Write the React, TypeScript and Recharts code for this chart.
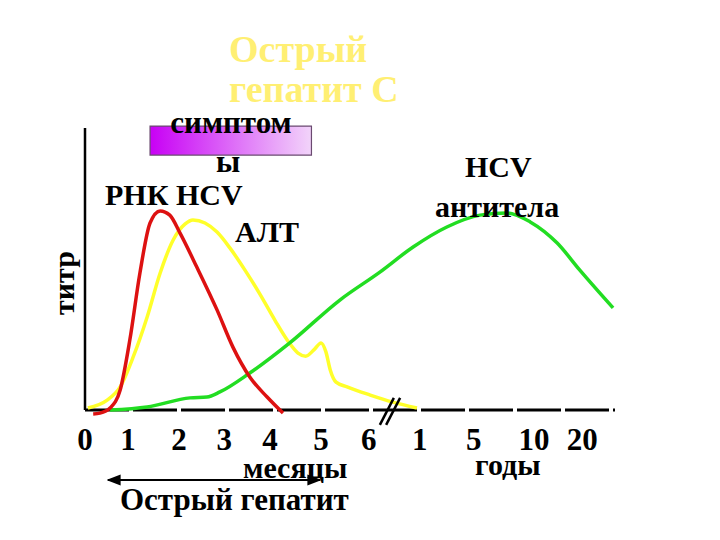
import { LineChart, Line, XAxis, YAxis, ReferenceLine, ReferenceArea } from 'recharts';

// x: timeline position (months 0..6, then years 1..20 after the break), v: titre
const rnaHcv = [
  { x: 0.17, v: -1.4 }, { x: 0.31, v: -1.1 }, { x: 0.52, v: 0.7 }, { x: 0.73, v: 7.1 },
  { x: 0.93, v: 24.8 }, { x: 1.14, v: 48.6 }, { x: 1.35, v: 66.3 }, { x: 1.56, v: 70.6 },
  { x: 1.76, v: 69.1 }, { x: 1.97, v: 62.8 }, { x: 2.32, v: 50.7 }, { x: 2.74, v: 35.5 },
  { x: 3.07, v: 22.3 }, { x: 3.42, v: 11.7 }, { x: 3.78, v: 4.6 }, { x: 4.11, v: -1.1 },
];

const alt = [
  { x: 0.06, v: 0.7 }, { x: 0.46, v: 3.5 }, { x: 0.73, v: 8.2 }, { x: 1.0, v: 18.8 },
  { x: 1.29, v: 33.0 }, { x: 1.56, v: 48.6 }, { x: 1.83, v: 60.3 }, { x: 2.08, v: 66.0 },
  { x: 2.24, v: 67.4 }, { x: 2.49, v: 66.3 }, { x: 2.74, v: 63.1 }, { x: 3.01, v: 57.4 },
  { x: 3.32, v: 49.6 }, { x: 3.63, v: 41.1 }, { x: 3.94, v: 31.9 }, { x: 4.21, v: 24.5 },
  { x: 4.42, v: 20.2 }, { x: 4.58, v: 19.1 }, { x: 4.75, v: 21.3 }, { x: 4.9, v: 23.8 },
  { x: 5.0, v: 20.6 }, { x: 5.09, v: 14.2 }, { x: 5.21, v: 9.9 }, { x: 5.44, v: 8.2 },
  { x: 5.92, v: 5.3 }, { x: 6.39, v: 2.8 }, { x: 6.89, v: 0.7 },
];

const antibodies = [
  { x: 0.52, v: 0 }, { x: 1.29, v: 1.1 }, { x: 2.18, v: 4.3 }, { x: 2.53, v: 4.6 },
  { x: 2.8, v: 6.4 }, { x: 3.42, v: 13.1 }, { x: 4.25, v: 23.8 }, { x: 5.29, v: 39.0 },
  { x: 6.12, v: 48.9 }, { x: 6.81, v: 57.8 }, { x: 7.51, v: 64.9 }, { x: 8.2, v: 69.1 },
  { x: 8.76, v: 69.9 }, { x: 9.24, v: 66.7 }, { x: 9.8, v: 59.2 }, { x: 10.27, v: 49.6 },
  { x: 10.96, v: 36.2 },
];

const tickPositions = [0, 0.89, 1.95, 2.89, 3.84, 4.9, 5.89, 6.95, 8.07, 9.32, 10.32];
const tickLabels = ['0', '1', '2', '3', '4', '5', '6', '1', '5', '10', '20'];

const symptoms = { start: 1.35, end: 4.7, low: 90.4, high: 100.7 };
const axisBreak = 6.33;

const serif = '"Liberation Serif", "Times New Roman", serif';

function MonthTick(props: any) {
  const { x, y, payload } = props;
  const i = tickPositions.indexOf(payload.value);
  return (
    <text x={x} y={y} dy={34} textAnchor="middle" fontFamily={serif} fontWeight="bold" fontSize={31} fill="#000">
      {tickLabels[i]}
    </text>
  );
}

export default function App() {
  const txt = { fontFamily: serif, fontWeight: 'bold' as const, fill: '#000' };
  return (
    <div style={{ position: 'absolute', left: 0, top: 0, width: 720, height: 540, background: '#fff' }}>
      <LineChart width={720} height={540} data={alt} margin={{ top: 128, right: 105, bottom: 84.36, left: 85 }}>
        <defs>
          <linearGradient id="sympGrad" x1="0" y1="0" x2="1" y2="0">
            <stop offset="0%" stopColor="#C800F5" />
            <stop offset="100%" stopColor="#F2D4FA" />
          </linearGradient>
        </defs>
        <XAxis dataKey="x" type="number" domain={[0, 11]} ticks={tickPositions} height={40}
          axisLine={false} tickLine={false} tickSize={0} tickMargin={0} tick={<MonthTick />} interval={0} />
        <YAxis type="number" domain={[-2, 100]} hide />
        <ReferenceLine y={0} stroke="#000" strokeWidth={3} strokeDasharray="44 4" />
        <ReferenceLine segment={[{ x: 0, y: 0 }, { x: 0, y: 100 }]} stroke="#000" strokeWidth={2.5} ifOverflow="visible" />
        <ReferenceArea x1={symptoms.start} x2={symptoms.end} y1={symptoms.low} y2={symptoms.high}
          fill="url(#sympGrad)" fillOpacity={1} stroke="#6a4a70" strokeWidth={1.2} ifOverflow="visible" />
        <Line data={alt} dataKey="v" type="monotone" stroke="#FFFF2A" strokeWidth={3.5} dot={false} isAnimationActive={false} />
        <Line data={antibodies} dataKey="v" type="monotone" stroke="#22DD22" strokeWidth={3.5} dot={false} isAnimationActive={false} />
        <Line data={rnaHcv} dataKey="v" type="monotone" stroke="#DD1111" strokeWidth={3.5} dot={false} isAnimationActive={false} />
        <ReferenceLine segment={[{ x: axisBreak - 0.21, y: -5.3 }, { x: axisBreak + 0.08, y: 4.3 }]} stroke="#000" strokeWidth={2.5} ifOverflow="visible" />
        <ReferenceLine segment={[{ x: axisBreak - 0.08, y: -5.3 }, { x: axisBreak + 0.21, y: 4.3 }]} stroke="#000" strokeWidth={2.5} ifOverflow="visible" />
      </LineChart>
      <svg width={720} height={540} style={{ position: 'absolute', left: 0, top: 0, pointerEvents: 'none' }}>
        <defs>
          <marker id="arrowHead" viewBox="0 0 10 10" refX="9" refY="5" markerWidth="7" markerHeight="7" orient="auto-start-reverse">
            <path d="M0,1 L10,5 L0,9 z" fill="#000" />
          </marker>
        </defs>
        <text x={229} y={62} fontFamily={serif} fontWeight="bold" fontSize={38} fill="#FFEF73">Острый</text>
        <text x={229} y={102} fontFamily={serif} fontWeight="bold" fontSize={38} fill="#FFEF73">гепатит С</text>
        <text x={231} y={133} textAnchor="middle" fontSize={31} {...txt}>симптом</text>
        <text x={228} y={172} textAnchor="middle" fontSize={31} {...txt}>ы</text>
        <text x={105} y={205} fontSize={30} {...txt}>РНК HCV</text>
        <text x={235} y={242} fontSize={30} {...txt}>АЛТ</text>
        <text x={465} y={177} fontSize={30} {...txt}>HCV</text>
        <text x={435} y={217} fontSize={30} {...txt}>антитела</text>
        <text x={0} y={0} transform="translate(74,283) rotate(-90)" textAnchor="middle" fontSize={30} {...txt}>титр</text>
        <text x={243} y={478} fontSize={30} {...txt}>месяцы</text>
        <text x={475} y={475} fontSize={30} {...txt}>годы</text>
        <text x={120} y={510} fontSize={31} {...txt}>Острый гепатит</text>
        <line x1={108} y1={480} x2={320} y2={480} stroke="#000" strokeWidth={2}
          markerStart="url(#arrowHead)" markerEnd="url(#arrowHead)" />
      </svg>
    </div>
  );
}
